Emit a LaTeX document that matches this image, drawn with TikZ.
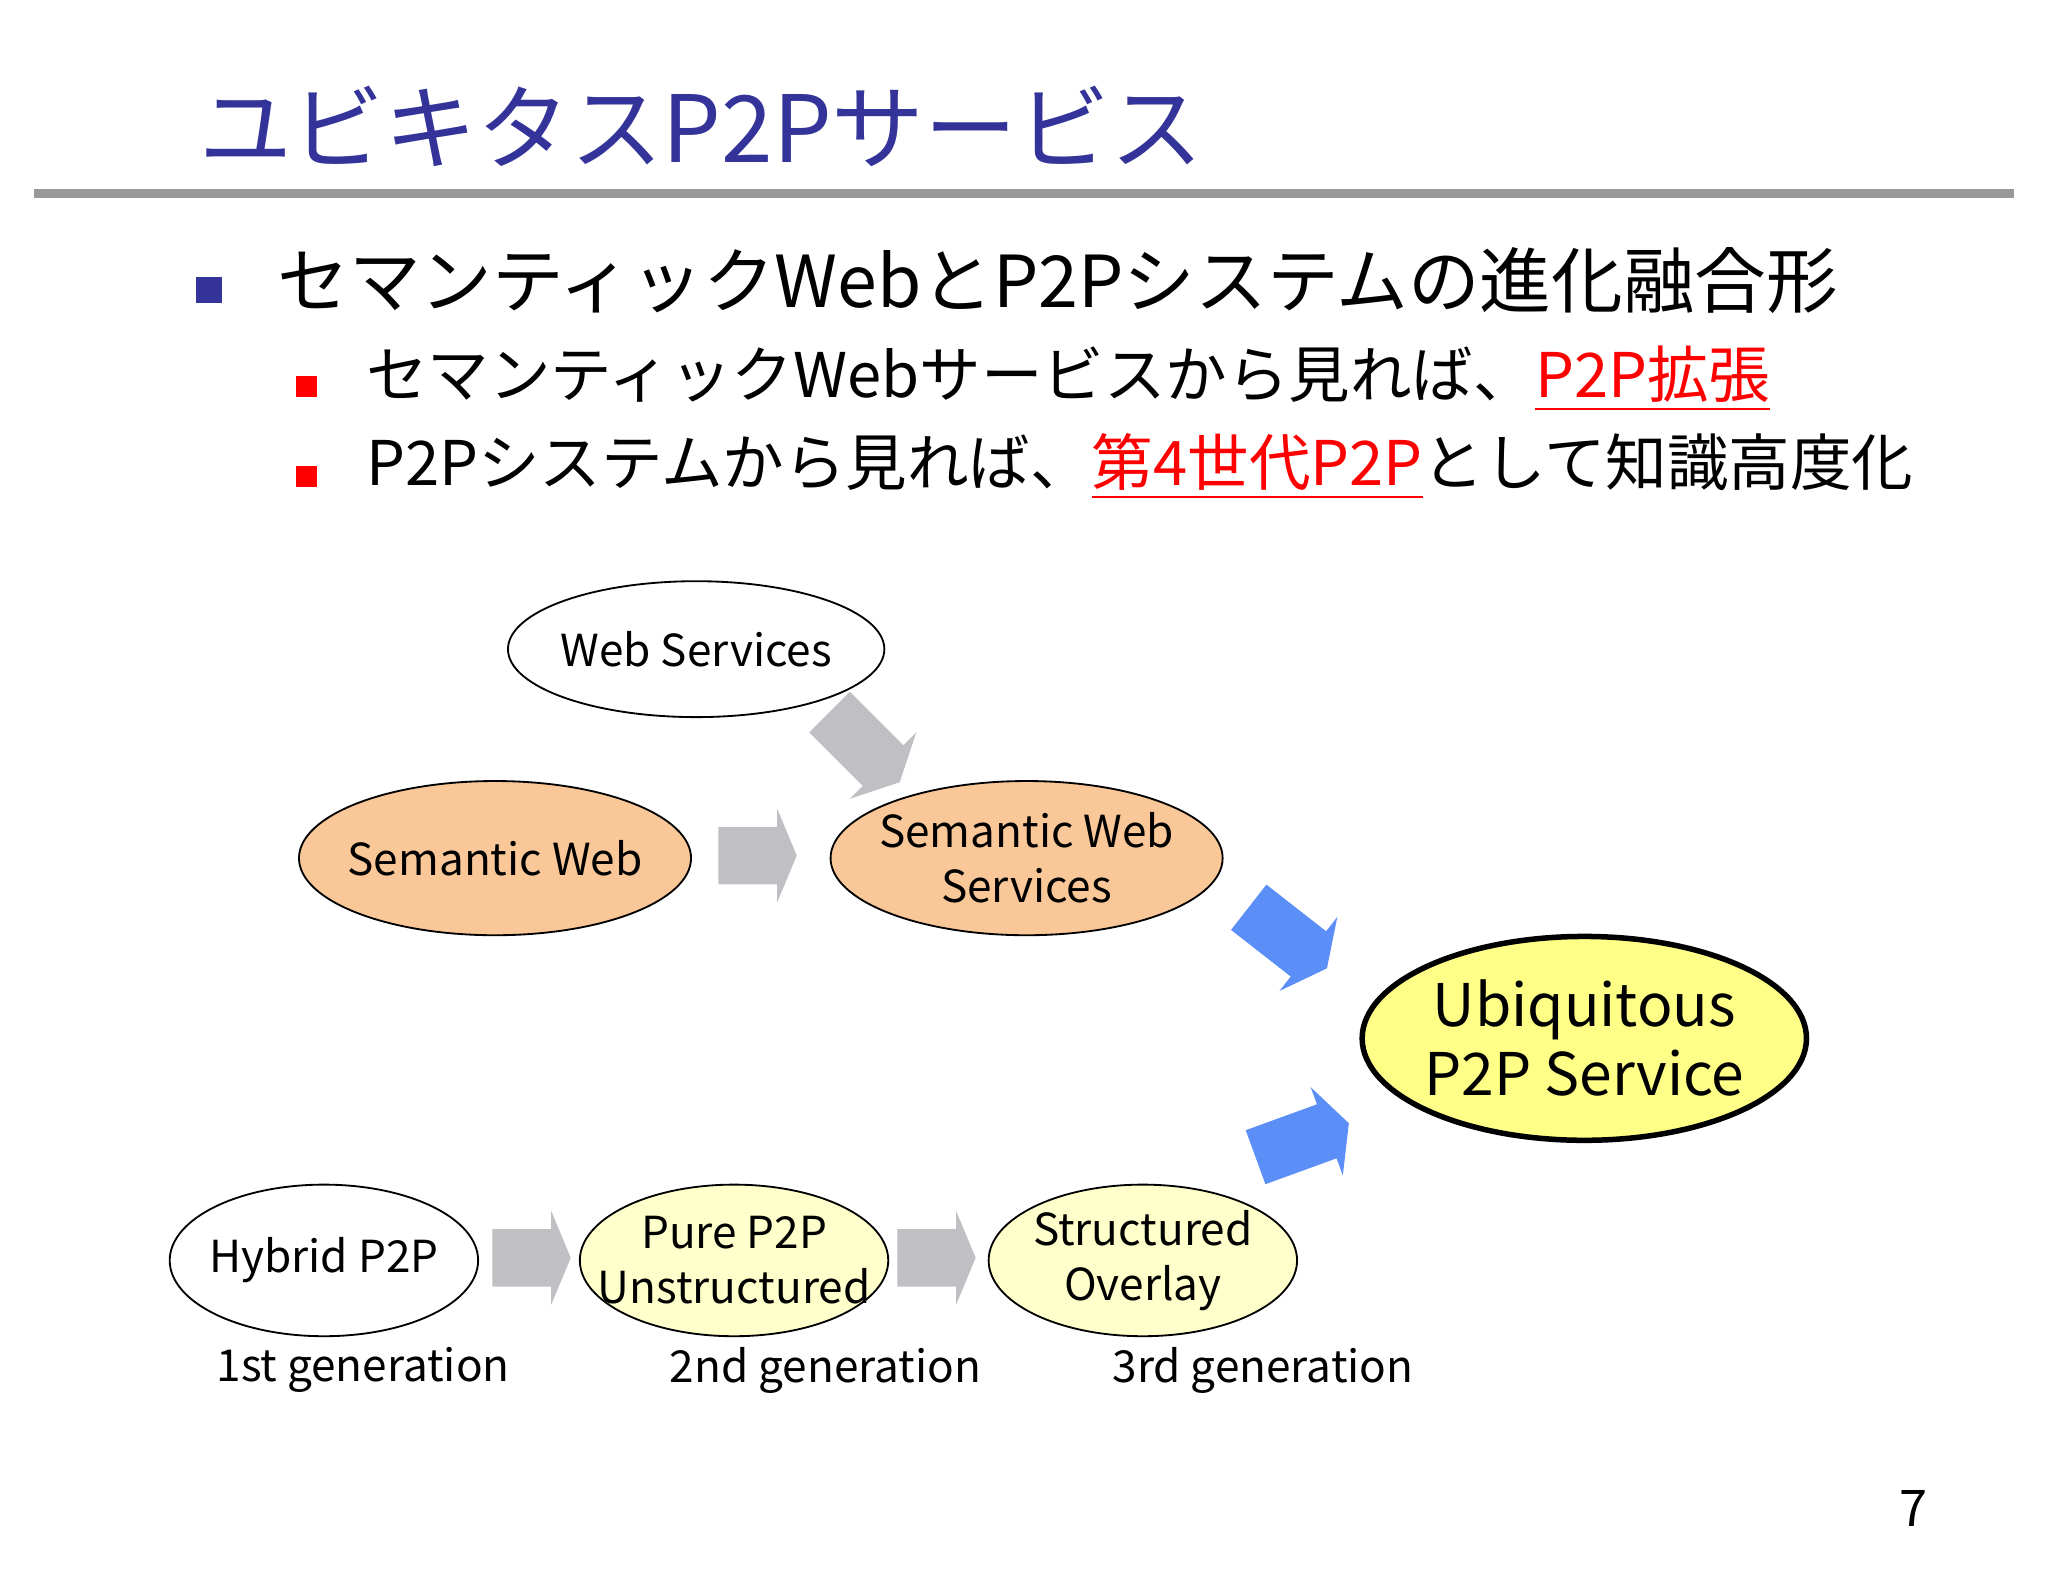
\documentclass[tikz,border=0pt]{standalone}
\usepackage{fontspec}
\setmainfont{Noto Sans CJK JP}
\usetikzlibrary{shapes.geometric}
\definecolor{titleblue}{RGB}{51,51,153}
\definecolor{swfill}{RGB}{250,200,152}
\definecolor{genfill}{RGB}{255,255,204}
\definecolor{ubfill}{RGB}{255,255,136}
\definecolor{arrowgray}{RGB}{192,192,196}
\definecolor{arrowblue}{RGB}{91,142,247}
\tikzset{
  bubble/.style={draw,ellipse,inner sep=-12pt,align=center,font=\fontsize{9.6}{12}\selectfont},
  blk/.pic={\fill (-30,-22) -- (15,-22) -- (15,-36) -- (30,0) -- (15,36) -- (15,22) -- (-30,22) -- cycle;},
  blkl/.pic={\fill (-38,-22) -- (20,-22) -- (20,-36) -- (38,0) -- (20,36) -- (20,22) -- (-38,22) -- cycle;},
  gen/.style={font=\fontsize{9.6}{12}\selectfont}
}
\begin{document}
\begin{tikzpicture}[x=0.01cm,y=-0.01cm]
  \useasboundingbox (0,0) rectangle (1568,1211);

  % title
  \node[anchor=west,text=titleblue,font=\fontsize{20.2}{22}\selectfont] (title) at (140,97) {ユビキタスP2Pサービス};
  \draw[line width=2pt,gray!80] (26,148) -- (1542,148);

  % bullets
  \node[fill=titleblue,minimum size=0.2cm,inner sep=0pt] (b1) at (160,222) {};
  \node[anchor=west,font=\fontsize{15.6}{18}\selectfont] (t1) at (200,215) {セマンティックWebとP2Pシステムの進化融合形};
  \node[fill=red,minimum size=0.16cm,inner sep=0pt] (b2) at (235,296) {};
  \node[anchor=west,font=\fontsize{13.4}{15}\selectfont] (t2) at (268,290) {セマンティックWebサービスから見れば、\textcolor{red}{\underline{P2P拡張}}};
  \node[fill=red,minimum size=0.16cm,inner sep=0pt] (b3) at (235,365) {};
  \node[anchor=west,font=\fontsize{13.4}{15}\selectfont] (t3) at (268,357) {P2Pシステムから見れば、\textcolor{red}{\underline{第4世代P2P}}として知識高度化};

  % ellipses
  \node[bubble,minimum width=2.88cm,minimum height=1.04cm] (ws) at (533,497) {Web Services};
  \node[bubble,fill=swfill,minimum width=3.0cm,minimum height=1.18cm] (sw) at (379,657) {Semantic Web};
  \node[bubble,fill=swfill,minimum width=3.0cm,minimum height=1.18cm] (sws) at (786,657) {Semantic Web\\Services};
  \node[bubble,fill=ubfill,line width=1.2pt,minimum width=3.4cm,minimum height=1.56cm,
    font=\fontsize{12.8}{15}\selectfont] (ubi) at (1213,795) {Ubiquitous\\P2P Service};
  \node[bubble,minimum width=2.36cm,minimum height=1.16cm] (hyb) at (248,965) {Hybrid P2P};
  \node[bubble,fill=genfill,minimum width=2.36cm,minimum height=1.16cm] (pure) at (562,965) {Pure P2P\\Unstructured};
  \node[bubble,fill=genfill,minimum width=2.36cm,minimum height=1.16cm] (stru) at (875,965) {Structured\\Overlay};

  % block arrows
  \pic[arrowgray,rotate=-45] at (662,572) {blkl};
  \pic[arrowgray] at (580,655) {blk};
  \pic[arrowgray] at (407,963) {blk};
  \pic[arrowgray] at (717,963) {blk};
  \pic[arrowblue,rotate=-38] at (986,718) {blkl};
  \pic[arrowblue,rotate=20] at (997,873) {blkl};

  % generations
  \node[gen] (g1) at (278,1049) {1st generation};
  \node[gen] (g2) at (632,1049) {2nd generation};
  \node[gen] (g3) at (967,1049) {3rd generation};
  \node[font=\fontsize{11}{13}\selectfont] (pg) at (1465,1155) {7};
\end{tikzpicture}
\end{document}
